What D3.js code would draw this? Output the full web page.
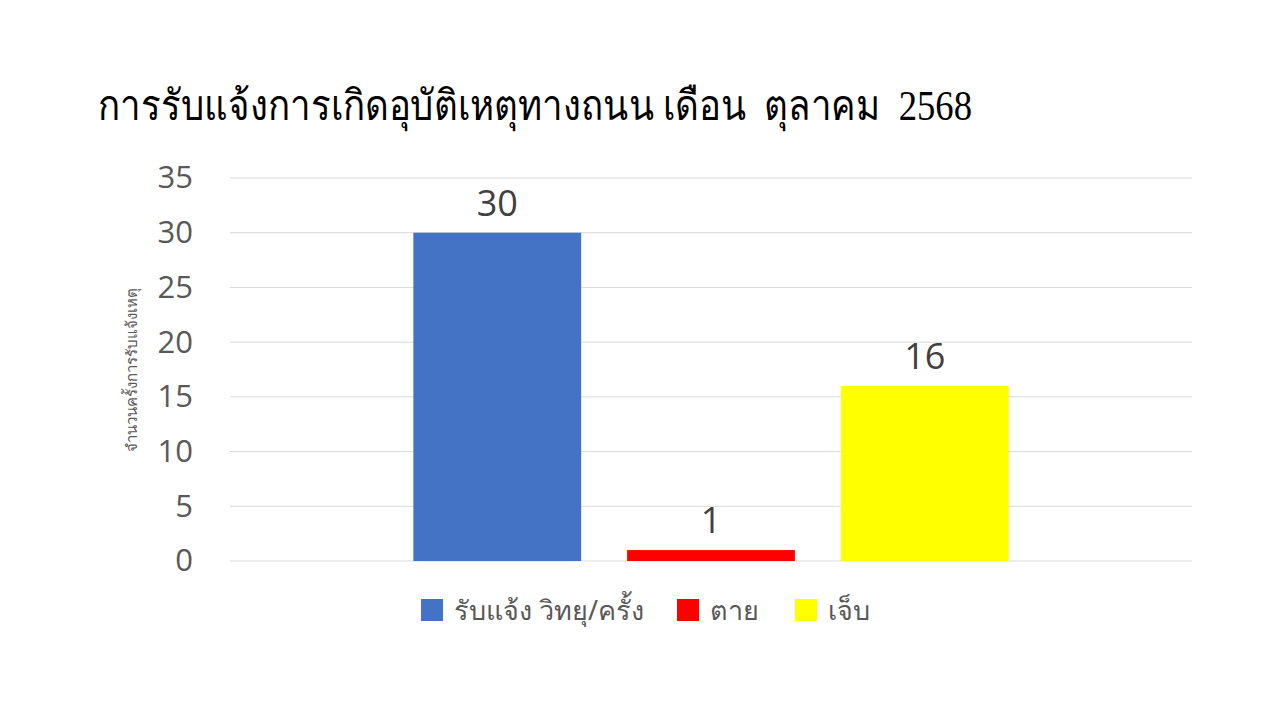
<!DOCTYPE html>
<html><head><meta charset="utf-8">
<script src="https://cdn.jsdelivr.net/npm/d3@7"></script>
<style>body{margin:0;background:#fff}svg{display:block}text{white-space:pre}</style>
</head><body>
<svg id="c" width="1280" height="720"></svg>
<script>
const title = "การรับแจ้งการเกิดอุบัติเหตุทางถนน เดือน  ตุลาคม  2568";
const yAxisTitle = "จำนวนครั้งการรับแจ้งเหตุ";
const categories = [""];
const seriesNames = ["รับแจ้ง วิทยุ/ครั้ง", "ตาย", "เจ็บ"];
const seriesValues = [30, 1, 16];
const seriesColors = ["#4472C4", "#FF0000", "#FFFF00"];
const yTicks = [0, 5, 10, 15, 20, 25, 30, 35];

const svg = d3.select("#c");
const m = {l: 230, r: 1192, t: 178, b: 561};
const y = d3.scaleLinear().domain([0, 35]).range([m.b, m.t]);
const x0 = d3.scaleBand().domain(categories).range([m.l, m.r]).paddingInner(0).paddingOuter(0.308);
const x1 = d3.scaleBand().domain(seriesNames).range([0, x0.bandwidth()]).paddingInner(0.215);

svg.append("text").attr("x", 98).attr("y", 120)
  .attr("font-family", "'Liberation Serif','DejaVu Serif',serif").attr("font-size", 42).attr("fill", "#000")
  .attr("textLength", 874).attr("lengthAdjust", "spacingAndGlyphs")
  .text(title);

// gridlines
svg.append("g").selectAll("line").data(yTicks).join("line")
  .attr("x1", m.l).attr("x2", m.r).attr("y1", d => y(d)).attr("y2", d => y(d))
  .attr("stroke", "#d9d9d9").attr("stroke-width", 1);

// y axis
const ya = svg.append("g").attr("transform", `translate(${m.l},0)`)
  .call(d3.axisLeft(y).tickValues(yTicks).tickSize(0).tickPadding(37));
ya.select(".domain").remove();
ya.selectAll("text").attr("font-family", "'Open Sans','Noto Sans',sans-serif").attr("font-size", 31).attr("fill", "#595959");

svg.append("text").attr("transform", `translate(137,370) rotate(-90)`)
  .attr("text-anchor", "middle").attr("font-family", "'Noto Sans','DejaVu Sans',sans-serif")
  .attr("font-size", 15).attr("fill", "#595959").text(yAxisTitle);

const g = svg.append("g").selectAll("g").data(categories).join("g")
  .attr("transform", d => `translate(${x0(d)},0)`);
const rows = seriesNames.map((n, i) => ({n, v: seriesValues[i], c: seriesColors[i]}));
g.selectAll("rect").data(rows).join("rect")
  .attr("x", d => x1(d.n)).attr("width", x1.bandwidth())
  .attr("y", d => y(d.v)).attr("height", d => y(0) - y(d.v)).attr("fill", d => d.c);
g.selectAll("text").data(rows).join("text")
  .attr("x", d => x1(d.n) + x1.bandwidth() / 2).attr("y", d => y(d.v) - 17)
  .attr("text-anchor", "middle").attr("font-family", "'Open Sans','Noto Sans',sans-serif")
  .attr("font-size", 36).attr("fill", "#404040").text(d => d.v);

// legend
const legX = [421, 677, 795];
const lg = svg.append("g").selectAll("g").data(rows).join("g")
  .attr("transform", (d, i) => `translate(${legX[i]},599)`);
lg.append("rect").attr("width", 22).attr("height", 22).attr("fill", d => d.c);
lg.append("text").attr("x", 33).attr("y", 21).attr("font-family", "'Noto Sans','DejaVu Sans',sans-serif")
  .attr("font-size", 27).attr("fill", "#595959").text(d => d.n);
</script>
</body></html>
